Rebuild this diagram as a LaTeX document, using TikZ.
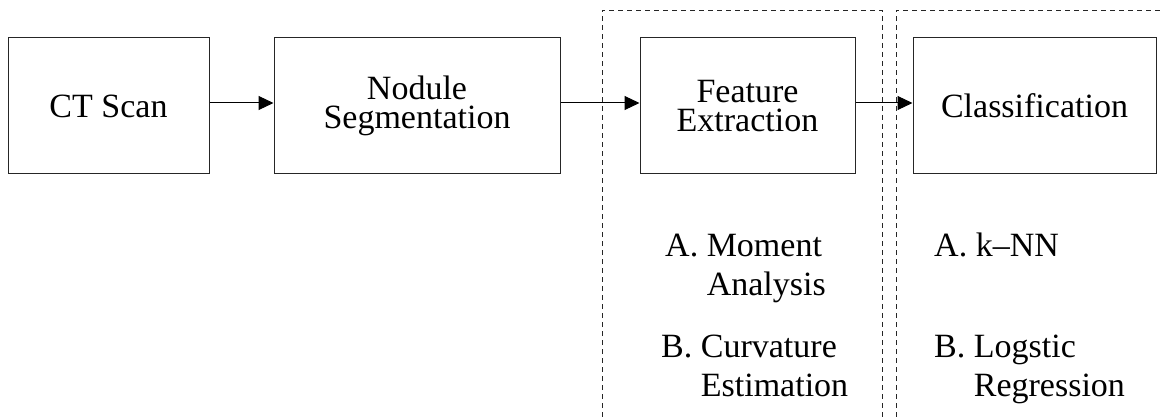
\documentclass[tikz,border=0pt]{standalone}
\usepackage{fontspec}
\setmainfont{Liberation Serif}
\usetikzlibrary{arrows.meta, positioning}
\tikzstyle{rec} = [rectangle, minimum height=136pt, text centered, align=center, inner sep=0pt, draw=black!85, line width=1pt, font=\fontsize{34}{29.5}\selectfont]
\tikzstyle{arrow} = [line width=1pt, -{Triangle[length=15pt, width=14pt]}]
\tikzstyle{group} = [black!85, line width=0.9pt, dash pattern=on 5pt off 4pt]
\tikzstyle{item} = [anchor=base west, align=left, inner sep=0pt, font=\fontsize{34}{39}\selectfont]

\begin{document}
\begin{tikzpicture}[x=1pt, y=-1pt]
		\useasboundingbox (0,0) rectangle (1160,417);
		% dashed frames round the last two stages
		\draw [group] (602,417) -- (602,10) -- (882,10) -- (882,417);
		\draw [group] (896,417) -- (896,10) -- (1160,10);
		\node (ct_scan) [rec, minimum width=201pt] at (108.5,106) {CT Scan};
		\node (segmentation) [rec, minimum width=286pt, right=64pt of ct_scan] {Nodule\\Segmentation};
		\draw [arrow] ([yshift=3pt]ct_scan.east) -- ([yshift=3pt]segmentation.west);
		\node (extraction) [rec, minimum width=215pt, right=79pt of segmentation] {Feature\\Extraction};
		\draw [arrow] ([yshift=3pt]segmentation.east) -- ([yshift=3pt]extraction.west);
		\node (classification) [rec, minimum width=243pt, right=57pt of extraction] {Classification};
		\draw [arrow] ([yshift=3pt]extraction.east) -- ([yshift=3pt]classification.west);
		% methods under each stage (base = last line)
		\node (moment) [item] at (665,295) {A. Moment\\\hphantom{A. }Analysis};
		\node (curvature) [item] at (661,396) {B. Curvature\\\hphantom{B. }Estimation};
		\node (knn) [item] at (934,256) {A. k--NN};
		\node (logistic) [item] at (934,396) {B. Logstic\\\hphantom{B. }Regression};
\end{tikzpicture}
\end{document}
